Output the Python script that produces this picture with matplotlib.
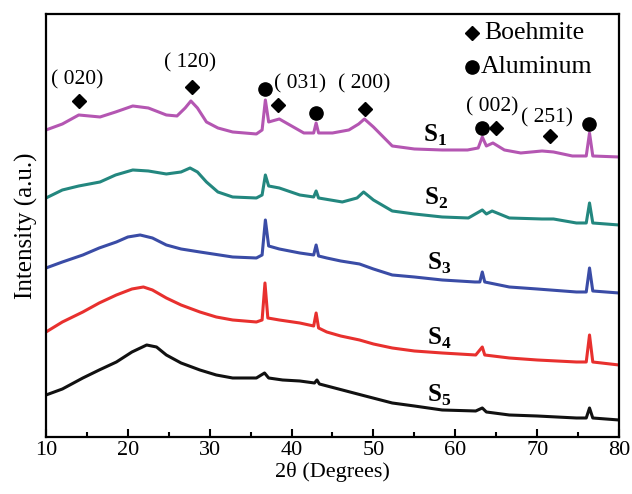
import matplotlib
matplotlib.use("Agg")
import matplotlib.pyplot as plt
from matplotlib.ticker import MultipleLocator, NullLocator

plt.rcParams['font.family'] = 'Liberation Serif'
plt.rcParams['mathtext.fontset'] = 'custom'
plt.rcParams['mathtext.rm'] = 'Liberation Serif'
plt.rcParams['mathtext.bf'] = 'Liberation Serif:bold'

# diffraction patterns (2theta, offset intensity in a.u.)
x_s1 = [10, 12, 14, 16.6, 18.5, 20.6, 22.5, 24.7, 26, 27, 27.7, 28.5, 29.6, 31, 32.8,
        35.7, 36.4, 36.8, 37.2, 38.5, 40, 41.5, 42.7, 43.0, 43.3, 45, 47, 48.2, 48.9,
        50, 52.3, 55, 58.4, 61.5, 62.8, 63.3, 63.8, 64.6, 66, 68, 70.6, 72, 74.3, 76,
        76.4, 76.8, 80]
y_s1 = [307, 313, 322, 320, 325, 331, 329, 322, 321, 329, 336, 329, 315, 309, 305,
        303, 307, 337, 315, 318, 311, 304, 304, 314, 304, 304, 307, 313, 318,
        310, 291, 288, 287, 287, 289, 300, 291, 294, 287, 284, 286, 285, 281, 281,
        304, 281, 280]

x_s2 = [10, 12, 14, 16.6, 18.5, 20.6, 22.5, 24.7, 26.5, 27.6, 28.5, 29.6, 31, 32.8,
        35.7, 36.4, 36.8, 37.2, 38.5, 41, 42.7, 43.0, 43.3, 46.2, 48, 48.8, 50, 52.3,
        55, 58.4, 61.6, 63.3, 63.8, 64.5, 66.6, 70.6, 72, 74.8, 76.0, 76.4, 76.8, 80]
y_s2 = [239, 247, 251, 255, 262, 267, 266, 263, 265, 269, 265, 255, 245, 240,
        239, 242, 262, 251, 249, 242, 240, 246, 239, 235, 239, 245, 237, 226,
        223, 220, 219, 227, 223, 226, 219, 218, 218, 214, 214, 234, 214, 212]

x_s3 = [10, 12, 14.5, 16.5, 18.6, 20, 21.5, 23, 24.7, 26.5, 28.8, 32.8, 35.7, 36.4,
        36.8, 37.2, 38.5, 41, 42.7, 43.0, 43.3, 44.3, 46, 48.3, 50, 52.3, 55, 58.4,
        62.4, 63.0, 63.3, 63.6, 66.6, 70, 74.8, 76.0, 76.4, 76.8, 80]
y_s3 = [169, 175, 182, 189, 195, 200, 202, 199, 192, 188, 185, 180, 179, 182,
        217, 191, 188, 184, 182, 192, 181, 179, 176, 173, 168, 162, 160, 157,
        155, 155, 165, 155, 150, 148, 145, 145, 169, 146, 144]

x_s4 = [10, 12, 14.5, 16.5, 18.6, 20.5, 21.9, 23, 24.7, 26.5, 28.8, 30.8, 32.8, 35.7,
        36.4, 36.75, 37.1, 38.5, 41, 42.7, 43.0, 43.3, 44.3, 46, 48.3, 50, 52.3, 55,
        58.4, 62.5, 63.3, 63.6, 66.6, 70, 74.8, 76.0, 76.4, 76.8, 80]
y_s4 = [105, 115, 125, 134, 142, 148, 150, 147, 139, 132, 125, 120, 117, 115,
        117, 154, 119, 117, 114, 111, 124, 109, 105, 101, 97, 93, 89, 86,
        84, 82, 90, 82, 79, 77, 75, 75, 102, 75, 72]

x_s5 = [10, 12, 14.5, 16.5, 18.6, 20.5, 22.3, 23.5, 24.7, 26.5, 28.8, 30.8, 32.8, 35.7,
        36.7, 37.2, 38.9, 41, 42.8, 43.1, 43.4, 46.2, 49, 52.3, 55, 58.4, 62.5, 63.3,
        63.8, 66.6, 70, 74.8, 76.0, 76.4, 76.8, 80]
y_s5 = [42, 48, 59, 67, 75, 85, 92, 90, 82, 74, 67, 62, 59, 59,
        64, 59, 57, 56, 54, 57, 53, 47, 41, 34, 31, 27, 26, 29,
        25, 22, 21, 19, 19, 29, 19, 17]

series = [
    (x_s1, y_s1, '#b456b2', '1', 56.0, 295),
    (x_s2, y_s2, '#23877f', '2', 56.2, 232),
    (x_s3, y_s3, '#3a4ca6', '3', 56.5, 167),
    (x_s4, y_s4, '#e8302e', '4', 56.6, 92),
    (x_s5, y_s5, '#111111', '5', 56.6, 35),
]

# peak markers: boehmite (diamond) and aluminum (circle)
boehmite_x = [14.0, 27.8, 38.3, 49.0, 65.0, 71.6]
boehmite_y = [336, 350, 332, 328, 309, 301]
aluminum_x = [36.8, 43.0, 63.3, 76.3]
aluminum_y = [348, 324, 309, 313]

hkl_labels = ['( 020)', '( 120)', '( 031)', '( 200)', '( 002)', '( 251)']
hkl_x = [13.8, 27.6, 41.0, 48.9, 64.5, 71.2]
hkl_y = [357, 374, 353, 353, 330, 319]

fig = plt.figure(figsize=(6.32, 4.94), dpi=100)
ax = fig.add_axes([0.0728, 0.1154, 0.9066, 0.8563])

for xs, ys, color, idx, lx, ly in series:
    ax.plot(xs, ys, color=color, lw=2.2)
    ax.text(lx, ly, r'$\mathbf{S}_\mathbf{' + idx + '}$', fontsize=18,
            ha='left', va='baseline')

ax.plot(boehmite_x, boehmite_y, 'D', color='black', markersize=7.5, ls='none')
ax.plot(aluminum_x, aluminum_y, 'o', color='black', markersize=9.5, ls='none')

for lab, hx, hy in zip(hkl_labels, hkl_x, hkl_y):
    ax.text(hx, hy, lab, fontsize=15.5, ha='center', va='center')

# legend drawn as marker + text
ax.plot([62.1], [404], 'D', color='black', markersize=7.5)
ax.text(63.6, 404, 'Boehmite', fontsize=18.5, ha='left', va='center')
ax.plot([62.0], [370], 'o', color='black', markersize=9.5)
ax.text(63.1, 370, 'Aluminum', fontsize=18.5, ha='left', va='center')

ax.set_xlim(10, 80)
ax.set_ylim(0, 423)
ax.xaxis.set_major_locator(MultipleLocator(10))
ax.xaxis.set_minor_locator(MultipleLocator(5))
ax.yaxis.set_major_locator(NullLocator())
ax.tick_params(axis='x', which='major', direction='in', length=6, width=1.5,
               labelsize=16, pad=3)
ax.tick_params(axis='x', which='minor', direction='in', length=3.5, width=1.5)
for sp in ax.spines.values():
    sp.set_linewidth(1.6)

ax.set_xlabel('2θ (Degrees)', fontsize=16, labelpad=1)
ax.set_ylabel('Intensity (a.u.)', fontsize=18, labelpad=6)

fig.savefig('out.png', dpi=100)
